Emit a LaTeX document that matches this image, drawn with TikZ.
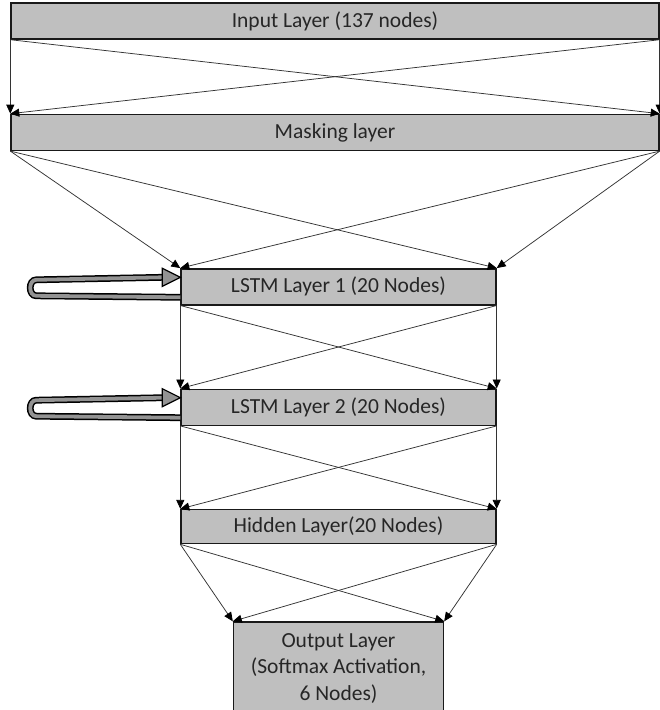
\documentclass[tikz,border=0pt]{standalone}
\usepackage{fontspec}
\setmainfont{Carlito}
\usetikzlibrary{positioning}
\usetikzlibrary{arrows.meta}

\begin{document}
\begin{tikzpicture}[x=1pt, y=-1pt,
    layer/.style={draw=black!90, line width=1.4pt, fill=gray!50, text=black!85, font=\fontsize{21.5}{26.5}\selectfont, align=center, minimum height=36pt, inner sep=0pt},
    link/.style={-{Triangle[length=9pt,width=8pt,color=black]}, draw=black!80, line width=0.75pt},
    recur/.style={draw=black, line width=1.5pt, double=gray!85, double distance=3.8pt},
    recurhead/.style={fill=gray!85, draw=black, line width=1.2pt, line join=miter}]

  \useasboundingbox (0,0) rectangle (660,710);

  \node[layer, minimum width=648pt] (inp) at (335,21) {Input Layer (137 nodes)};
  \node[layer, minimum width=648pt, below=74pt of inp] (mask) {Masking layer};
  \node[layer, minimum width=315pt, below=117pt of mask, xshift=3.5pt] (lstm1) {LSTM Layer 1 (20 Nodes)};
  \node[layer, minimum width=315pt, below=83pt of lstm1] (lstm2) {LSTM Layer 2 (20 Nodes)};
  \node[layer, minimum width=315pt, minimum height=34pt, below=83pt of lstm2] (hid) {Hidden Layer(20 Nodes)};
  \node[layer, minimum width=210pt, minimum height=93pt, below=77pt of hid] (out) {Output Layer\\(Softmax Activation,\\6 Nodes)};

  % input -> masking
  \draw[link] (inp.south west) -- (mask.north west);
  \draw[link] (inp.south west) -- (mask.north east);
  \draw[link] (inp.south east) -- (mask.north west);
  \draw[link] (inp.south east) -- (mask.north east);

  % masking -> lstm 1
  \draw[link] (mask.south west) -- (lstm1.north west);
  \draw[link] (mask.south west) -- (lstm1.north east);
  \draw[link] (mask.south east) -- (lstm1.north west);
  \draw[link] (mask.south east) -- (lstm1.north east);

  % lstm 1 -> lstm 2
  \draw[link] (lstm1.south west) -- (lstm2.north west);
  \draw[link] (lstm1.south west) -- (lstm2.north east);
  \draw[link] (lstm1.south east) -- (lstm2.north west);
  \draw[link] (lstm1.south east) -- (lstm2.north east);

  % lstm 2 -> hidden
  \draw[link] (lstm2.south west) -- (hid.north west);
  \draw[link] (lstm2.south west) -- (hid.north east);
  \draw[link] (lstm2.south east) -- (hid.north west);
  \draw[link] (lstm2.south east) -- (hid.north east);

  % hidden -> output
  \draw[link] (hid.south west) -- (out.north west);
  \draw[link] (hid.south west) -- (out.north east);
  \draw[link] (hid.south east) -- (out.north west);
  \draw[link] (hid.south east) -- (out.north east);

  % recurrent loops
  \draw[recur] ([yshift=-10.5pt]lstm1.west) -- ([xshift=-144pt,yshift=-9pt]lstm1.west)
    to[out=180, in=180, looseness=1.3] ([xshift=-144pt,yshift=7pt]lstm1.west) -- ([xshift=-17pt,yshift=9.5pt]lstm1.west);
  \filldraw[recurhead] ([yshift=9.5pt]lstm1.west) -- ++(-18pt,9pt) -- ++(0,-18pt) -- cycle;

  \draw[recur] ([yshift=-10.5pt]lstm2.west) -- ([xshift=-144pt,yshift=-9pt]lstm2.west)
    to[out=180, in=180, looseness=1.3] ([xshift=-144pt,yshift=7pt]lstm2.west) -- ([xshift=-17pt,yshift=9.5pt]lstm2.west);
  \filldraw[recurhead] ([yshift=9.5pt]lstm2.west) -- ++(-18pt,9pt) -- ++(0,-18pt) -- cycle;

\end{tikzpicture}
\end{document}
